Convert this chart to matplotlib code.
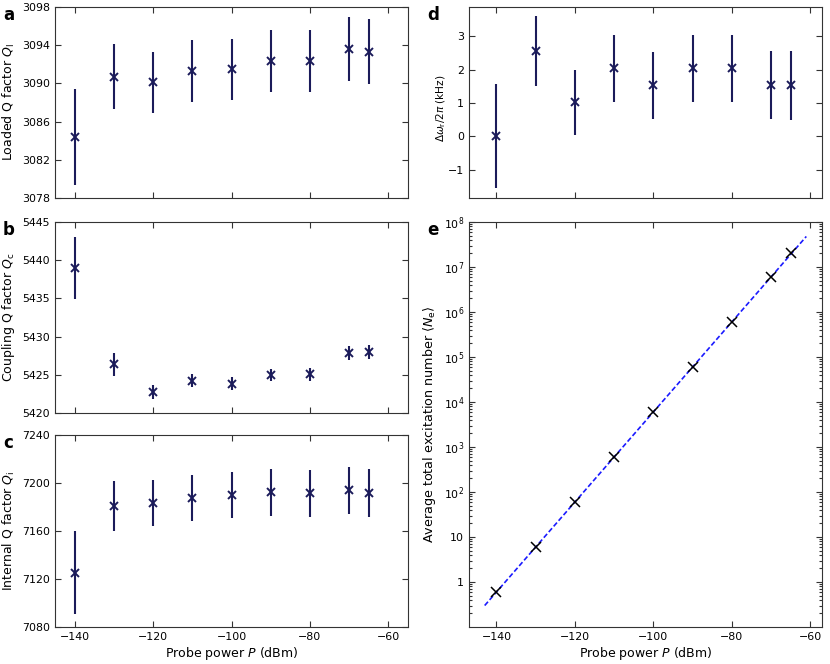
import numpy as np
import matplotlib
matplotlib.use("Agg")
import matplotlib.pyplot as plt
from matplotlib.ticker import FixedLocator, LogLocator, NullFormatter

P = [-140, -130, -120, -110, -100, -90, -80, -70, -65]

QL = [3084.4, 3090.7, 3090.1, 3091.3, 3091.5, 3092.3, 3092.3, 3093.6, 3093.3]
QL_err = [5.05, 3.4, 3.2, 3.2, 3.2, 3.25, 3.25, 3.35, 3.4]

QC = [5439.0, 5426.35, 5422.7, 5424.25, 5423.85, 5424.95, 5425.05, 5427.85, 5428.0]
QC_err = [4.05, 1.45, 0.9, 0.9, 0.9, 0.8, 0.9, 0.9, 0.9]

QI = [7125.3, 7180.7, 7183.6, 7187.7, 7189.7, 7192.2, 7191.3, 7193.8, 7191.9]
QI_err = [34.3, 21.0, 19.3, 19.0, 19.2, 19.3, 19.3, 19.7, 19.9]

DW = [0.0, 2.55, 1.02, 2.04, 1.53, 2.04, 2.04, 1.53, 1.53]
DW_err = [1.56, 1.05, 0.98, 1.0, 1.0, 1.0, 1.0, 1.02, 1.03]

NE = [0.6, 6, 60, 600, 6000, 6e4, 6e5, 6e6, 2e7]
fit_P = [-143, -61]
fit_N = [0.3, 4.77e7]

navy = '#1b1b5a'
tfs = 7.9
lfs = 9.0

plt.rcParams['font.family'] = ['DejaVu Sans']
plt.rcParams['font.size'] = tfs
plt.rcParams['axes.linewidth'] = 0.8
plt.rcParams['axes.edgecolor'] = '#333333'

fig = plt.figure(figsize=(8.3, 6.64), dpi=100)

W, H = 830.0, 664.0
def ax_px(l, t, r, b):
    return fig.add_axes([l / W, 1 - b / H, (r - l) / W, (b - t) / H])

axa = ax_px(55, 7, 408, 198)
axb = ax_px(55, 222, 408, 413)
axc = ax_px(55, 435, 408, 627)
axd = ax_px(469, 7, 822, 198)
axe = ax_px(469, 222, 822, 627)

def style(ax):
    ax.tick_params(direction='in', top=True, right=True, which='both', labelsize=tfs,
                   length=4, width=0.8, color='#333333')
    ax.tick_params(which='minor', length=2)

def eb(ax, y, e):
    ax.errorbar(P, y, yerr=e, fmt='x', color=navy, ecolor=navy, elinewidth=1.5,
                markersize=6, markeredgewidth=1.4, capsize=0)

for ax, y, e in [(axa, QL, QL_err), (axb, QC, QC_err), (axc, QI, QI_err), (axd, DW, DW_err)]:
    eb(ax, y, e)
    style(ax)
    ax.set_xticks([-140, -120, -100, -80, -60])

for ax in (axa, axb, axc):
    ax.set_xlim(-145, -55)
axd.set_xlim(-147, -57)
axe.set_xlim(-147, -57)

axa.set_ylim(3078, 3098)
axa.set_yticks([3078, 3082, 3086, 3090, 3094, 3098])
axb.set_ylim(5420, 5445)
axb.set_yticks([5420, 5425, 5430, 5435, 5440, 5445])
axc.set_ylim(7080, 7240)
axc.set_yticks([7080, 7120, 7160, 7200, 7240])
axd.set_ylim(-1.85, 3.88)
axd.set_yticks([-1, 0, 1, 2, 3])

for ax in (axa, axb, axd):
    ax.set_xticklabels([])

axa.set_ylabel(r'Loaded Q factor $Q_\mathrm{l}$', fontsize=lfs, labelpad=4)
axb.set_ylabel(r'Coupling Q factor $Q_\mathrm{c}$', fontsize=lfs, labelpad=4)
axc.set_ylabel(r'Internal Q factor $Q_\mathrm{i}$', fontsize=lfs, labelpad=4)
axd.set_ylabel(r'$\Delta\omega_\mathrm{r}/2\pi$ (kHz)', fontsize=7.6)
axd.yaxis.set_label_coords(-0.06, 0.47)
axc.set_xlabel(r'Probe power $P$ (dBm)', fontsize=lfs, labelpad=2)

# panel e
axe.plot(fit_P, fit_N, '--', color='#1a1aff', linewidth=1.2, dashes=(3, 1.5))
axe.plot(P, NE, 'x', color='black', markersize=7, markeredgewidth=1.1)
axe.set_yscale('log')
axe.set_ylim(0.1, 1e8)
axe.set_xticks([-140, -120, -100, -80, -60])
style(axe)
axe.yaxis.set_major_locator(FixedLocator([1, 10, 1e2, 1e3, 1e4, 1e5, 1e6, 1e7, 1e8]))
axe.set_yticklabels(['1', '10', r'$10^2$', r'$10^3$', r'$10^4$', r'$10^5$', r'$10^6$', r'$10^7$', r'$10^8$'])
axe.yaxis.set_minor_locator(LogLocator(base=10, subs=np.arange(2, 10), numticks=20))
axe.yaxis.set_minor_formatter(NullFormatter())
axe.set_ylabel(r'Average total excitation number $\langle N_\mathrm{e}\rangle$', fontsize=lfs + 0.2, labelpad=4)
axe.set_xlabel(r'Probe power $P$ (dBm)', fontsize=lfs, labelpad=2)

# panel letters
for x, y, s in [(3, 6, 'a'), (3, 221, 'b'), (3, 434, 'c'), (427, 6, 'd'), (427, 221, 'e')]:
    fig.text(x / W, 1 - y / H, s, fontsize=12, fontweight='bold', va='top', ha='left')

fig.savefig('out.png', dpi=100)
